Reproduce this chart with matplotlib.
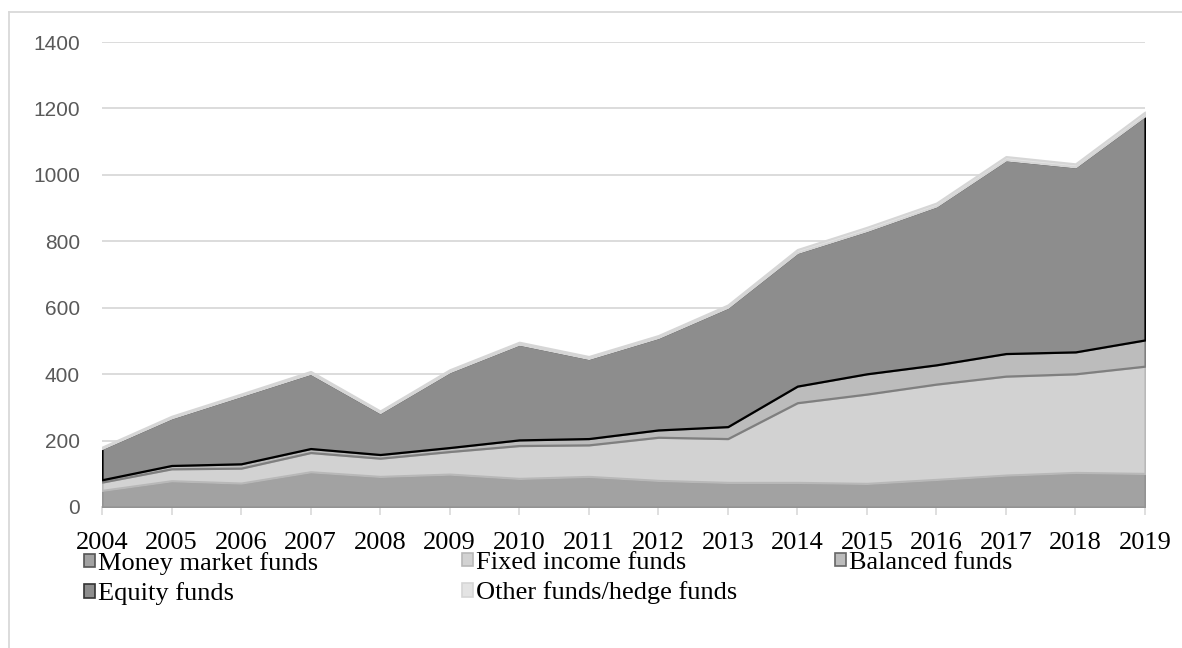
import numpy as np
import matplotlib.pyplot as plt
from matplotlib.patches import Patch
from matplotlib.lines import Line2D

years = [2004, 2005, 2006, 2007, 2008, 2009, 2010, 2011,
         2012, 2013, 2014, 2015, 2016, 2017, 2018, 2019]

money_market = [50, 79, 72, 106, 92, 99, 86, 92, 80, 74, 74, 71, 83, 96, 104, 101]
fixed_income = [25, 36, 45, 58, 55, 68, 99, 95, 130, 132, 240, 269, 287, 298, 297, 323]
balanced = [7, 10, 13, 12, 11, 12, 17, 19, 22, 36, 50, 61, 58, 68, 66, 79]
equity = [94, 143, 205, 226, 126, 228, 288, 241, 278, 359, 402, 431, 478, 583, 557, 675]
other = [4, 5, 5, 6, 5, 6, 6, 6, 6, 7, 9, 10, 9, 10, 9, 11]

labels = ['Money market funds', 'Fixed income funds', 'Balanced funds',
          'Equity funds', 'Other funds/hedge funds']
fills = ['#a2a2a2', '#d2d2d2', '#bcbcbc', '#8d8d8d', '#e4e4e4']
edges = ['#939393', '#b8b8b8', '#7f7f7f', '#000000', '#d6d6d6']

fig = plt.figure(figsize=(11.82, 6.48), dpi=100)
ax = fig.add_axes([102 / 1182, 1 - 507 / 648, 1043 / 1182, 465 / 648])

polys = ax.stackplot(years, money_market, fixed_income, balanced, equity, other,
                     colors=fills, labels=labels, zorder=2)
for p, ec in zip(polys, edges):
    p.set_edgecolor(ec)
    p.set_linewidth(1.6)

ax.set_xlim(2004, 2019)
ax.set_ylim(0, 1400)
ax.set_yticks(range(0, 1401, 200))
ax.set_xticks(years)
ax.set_xticklabels([str(y) for y in years], fontfamily='Liberation Serif', fontsize=19)
ax.grid(axis='y', color='#d9d9d9', linewidth=1.3, zorder=0)
ax.set_axisbelow(True)
for s in ['top', 'right', 'left']:
    ax.spines[s].set_visible(False)
ax.spines['bottom'].set_color('#d9d9d9')
ax.spines['bottom'].set_linewidth(1.3)
ax.spines['bottom'].set_zorder(1)
ax.tick_params(axis='y', length=0, pad=16, labelsize=15, labelcolor='#595959')
for t in ax.get_yticklabels():
    t.set_fontfamily('Liberation Sans')
ax.tick_params(axis='x', length=6, width=1.2, color='#d9d9d9', pad=12, labelcolor='black')

# legend in three columns, filled row by row
handles = [Patch(facecolor=f, edgecolor=e if e != '#000000' else '#333333', linewidth=1.2)
           for f, e in zip(fills, edges)]
handles[0].set_edgecolor('#555555')
handles[2].set_edgecolor('#666666')
cols = [([0, 3], 84), ([1, 4], 462), ([2], 835)]
for idx, xpix in cols:
    fig.legend([handles[i] for i in idx], [labels[i] for i in idx],
               loc='upper left', bbox_to_anchor=(xpix / 1182, 1 - 552 / 648),
               frameon=False, borderpad=0, borderaxespad=0,
               handlelength=0.42, handleheight=0.42, handletextpad=0.1,
               labelspacing=0.28, prop={'family': 'Liberation Serif', 'size': 19})

# thin chart-area border on the left and top
fig.add_artist(Line2D([9 / 1182, 9 / 1182], [0, 1 - 12 / 648],
                      transform=fig.transFigure, color='#d9d9d9', linewidth=1.3))
fig.add_artist(Line2D([9 / 1182, 1], [1 - 12 / 648, 1 - 12 / 648],
                      transform=fig.transFigure, color='#d9d9d9', linewidth=1.3))

fig.savefig('out.png', dpi=100)
